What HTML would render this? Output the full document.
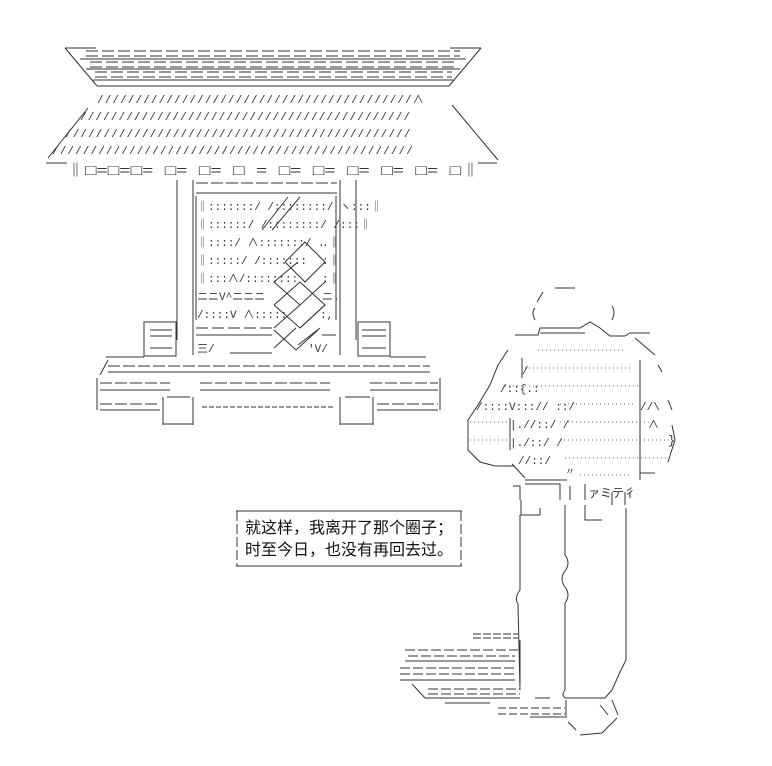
<!DOCTYPE html>
<html><head><meta charset="utf-8"><style>
html,body{margin:0;padding:0;background:#fff;}
svg{display:block}
.t{font-family:"Liberation Mono","Noto Sans CJK SC",monospace;fill:#333;}
.c{font-family:"Liberation Sans","Noto Sans CJK SC",sans-serif;fill:#111;}
</style></head><body>
<svg width="772" height="766" viewBox="0 0 772 766" xmlns="http://www.w3.org/2000/svg">
<g stroke="#333" stroke-width="1" fill="none">
<!-- roof top -->
<line x1="65" y1="48" x2="96" y2="48"/><line x1="450" y1="48" x2="481" y2="48"/>
<line x1="65" y1="48" x2="97" y2="86"/><line x1="481" y1="48" x2="449" y2="86"/>
<g stroke-dasharray="12,4">
<line x1="86" y1="51" x2="460" y2="51"/><line x1="86" y1="56" x2="460" y2="56"/>
<line x1="90" y1="62" x2="456" y2="62"/><line x1="90" y1="67" x2="456" y2="67"/>
<line x1="95" y1="72" x2="452" y2="72"/><line x1="95" y1="77" x2="452" y2="77"/>
</g>
<line x1="80" y1="59" x2="466" y2="59"/><line x1="86" y1="69" x2="460" y2="69"/>
<line x1="93" y1="80" x2="453" y2="80"/><line x1="97" y1="86" x2="449" y2="86"/>
<!-- roof eave diagonals -->
<line x1="88" y1="108" x2="48" y2="158"/>
<line x1="452" y1="105" x2="498" y2="160"/>
<line x1="46" y1="163" x2="67" y2="163"/><line x1="478" y1="163" x2="497" y2="163"/>
<!-- pillars -->
<line x1="177" y1="180" x2="177" y2="340"/><line x1="356" y1="180" x2="356" y2="340"/>
<line x1="193" y1="180" x2="193" y2="355"/><line x1="340" y1="180" x2="340" y2="355"/>
<line x1="196" y1="183" x2="337" y2="183" stroke-dasharray="12,3"/>
<line x1="196" y1="193" x2="337" y2="193"/>
<line x1="196" y1="196" x2="196" y2="320"/><line x1="336" y1="196" x2="336" y2="320"/>
<!-- lattice -->
<polyline points="300,197 272,230"/>
<polyline points="288,197 262,230"/>
<polyline points="285,262 305,242 325,262 305,282 285,262"/>
<polyline points="274,282 298,262"/>
<polyline points="274,282 300,305 325,282"/>
<polyline points="274,305 300,282"/>
<polyline points="274,305 300,328 325,305 300,282"/>
<polyline points="274,328 300,305"/>
<polyline points="274,348 296,328"/>
<polyline points="300,328 325,305"/>
<polyline points="298,345 320,328"/>
<polyline points="274,330 296,350 318,330"/>
<!-- panel lower bars -->
<line x1="196" y1="328" x2="272" y2="328" stroke-dasharray="12,4"/>
<line x1="196" y1="335" x2="272" y2="335"/>
<line x1="322" y1="335" x2="336" y2="335"/>
<line x1="230" y1="353" x2="272" y2="353"/>
<!-- side boxes -->
<rect x="144" y="322" width="32" height="34"/>
<rect x="358" y="322" width="32" height="34"/>
<line x1="150" y1="330" x2="172" y2="330"/><line x1="150" y1="336" x2="172" y2="336"/>
<line x1="150" y1="348" x2="172" y2="348"/>
<line x1="362" y1="330" x2="386" y2="330"/><line x1="362" y1="336" x2="386" y2="336"/>
<line x1="362" y1="348" x2="386" y2="348"/>
<!-- base -->
<line x1="106" y1="357" x2="144" y2="357"/><line x1="390" y1="357" x2="426" y2="357"/>
<line x1="100" y1="375" x2="108" y2="360"/>
<line x1="108" y1="366" x2="430" y2="366" stroke-dasharray="12,3"/>
<line x1="108" y1="372" x2="430" y2="372"/>
<line x1="97" y1="378" x2="97" y2="410"/><line x1="440" y1="378" x2="440" y2="410"/>
<line x1="100" y1="383" x2="170" y2="383" stroke-dasharray="12,3"/>
<line x1="100" y1="390" x2="170" y2="390"/>
<line x1="200" y1="383" x2="330" y2="383" stroke-dasharray="12,3"/>
<line x1="200" y1="390" x2="330" y2="390"/>
<line x1="370" y1="383" x2="438" y2="383" stroke-dasharray="12,3"/>
<line x1="370" y1="390" x2="438" y2="390"/>
<line x1="100" y1="404" x2="160" y2="404" stroke-dasharray="12,3"/>
<line x1="100" y1="410" x2="160" y2="410"/>
<line x1="377" y1="404" x2="438" y2="404" stroke-dasharray="12,3"/>
<line x1="377" y1="410" x2="438" y2="410"/>
<line x1="202" y1="407" x2="335" y2="407" stroke-dasharray="5,2"/>
<line x1="163" y1="397" x2="163" y2="425"/><line x1="193" y1="397" x2="193" y2="425"/>
<line x1="340" y1="397" x2="340" y2="425"/><line x1="373" y1="397" x2="373" y2="425"/>
<line x1="163" y1="424" x2="193" y2="424"/><line x1="340" y1="424" x2="373" y2="424"/>
<line x1="345" y1="397" x2="370" y2="397"/><line x1="167" y1="397" x2="190" y2="397"/>
<!-- text box -->
<line x1="236" y1="511" x2="462" y2="511"/><line x1="236" y1="566" x2="462" y2="566"/>
<line x1="237" y1="511" x2="237" y2="566" stroke-dasharray="10,3"/>
<line x1="461" y1="511" x2="461" y2="566" stroke-dasharray="10,3"/>
<!-- person head -->
<line x1="555" y1="288" x2="575" y2="288"/>
<line x1="543" y1="292" x2="537" y2="302"/>
<path d="M535,308 q-4,4 0,12 M612,306 q4,6 0,14"/>
<!-- collar -->
<path d="M515,335 L538,335 L540,328 L580,328 L590,322 L600,328 L610,336 L625,336 L630,333 L650,333"/>
<line x1="540" y1="333" x2="585" y2="333"/>
<!-- body outline -->
<path d="M508,350 L498,365 L490,385 L478,405 L468,420 L468,450 L480,462 L495,466 L515,466"/>
<path d="M635,338 L655,355 M658,365 L662,372 M668,400 L672,410 M672,425 L675,440 L668,462"/>
<line x1="512" y1="464" x2="525" y2="478"/><line x1="525" y1="480" x2="567" y2="480"/>
<line x1="522" y1="358" x2="522" y2="378"/>
<line x1="510" y1="418" x2="510" y2="450"/>
<line x1="640" y1="360" x2="640" y2="480"/>
<line x1="640" y1="473" x2="655" y2="473"/>
<!-- dotted fills -->
<g stroke-dasharray="1,3" stroke="#666">
<line x1="538" y1="350" x2="625" y2="350"/>
<line x1="525" y1="368" x2="630" y2="368"/>
<line x1="505" y1="386" x2="638" y2="386"/>
<line x1="560" y1="404" x2="636" y2="404"/>
<line x1="470" y1="422" x2="508" y2="422"/><line x1="560" y1="422" x2="655" y2="422"/>
<line x1="470" y1="440" x2="508" y2="440"/><line x1="560" y1="440" x2="672" y2="440"/>
<line x1="565" y1="458" x2="666" y2="458"/>
<line x1="580" y1="475" x2="632" y2="475"/>
</g>
<!-- legs top -->
<path d="M513,486 L520,486 L520,500 M525,484 L560,484 L560,500 M570,486 L570,500 M585,484 L585,500 M612,492 L612,505 M625,492 L625,505"/>
<path d="M521,500 L521,515 L540,515 L540,508 M585,505 L585,520 L602,520"/>
<line x1="520" y1="515" x2="520" y2="590"/>
<path d="M520,590 q-6,8 -2,14 L520,690"/>
<path d="M565,505 L565,555 q6,8 0,16 q-6,8 0,16 q6,8 0,16 L565,690"/>
<path d="M626,508 L626,660 L620,672 L612,690"/>
<!-- feet -->
<line x1="473" y1="634" x2="518" y2="634" stroke-dasharray="8,2"/><line x1="473" y1="638" x2="518" y2="638" stroke-dasharray="8,2"/>
<line x1="405" y1="650" x2="518" y2="650" stroke-dasharray="10,3"/>
<line x1="408" y1="656" x2="515" y2="656" stroke-dasharray="10,3"/>
<line x1="405" y1="661" x2="515" y2="661"/>
<line x1="400" y1="668" x2="515" y2="668" stroke-dasharray="10,3"/>
<line x1="400" y1="674" x2="515" y2="674" stroke-dasharray="10,3"/>
<line x1="400" y1="680" x2="515" y2="680"/>
<line x1="520" y1="640" x2="520" y2="685"/>
<line x1="412" y1="684" x2="425" y2="698"/>
<line x1="428" y1="689" x2="520" y2="689" stroke-dasharray="10,3"/>
<line x1="428" y1="694" x2="520" y2="694" stroke-dasharray="10,3"/>
<line x1="425" y1="698" x2="520" y2="698"/>
<line x1="445" y1="703" x2="490" y2="703"/>
<line x1="535" y1="698" x2="550" y2="698"/>
<line x1="498" y1="708" x2="565" y2="708" stroke-dasharray="8,3"/>
<line x1="498" y1="714" x2="565" y2="714" stroke-dasharray="8,3"/>
<line x1="530" y1="717" x2="565" y2="717"/>
<path d="M565,690 q-4,5 0,8 L605,698 L612,690 M566,700 L566,718"/>
<path d="M600,705 l8,10 M612,700 l6,15 M617,718 l-15,15 L580,735 M568,722 l8,8"/>
</g>
<!-- ascii text rows -->
<text class="t" x="97" y="103" font-size="11" letter-spacing="1.1">/////////////////////////////////////////&#x2227;</text>
<text class="t" x="80" y="120" font-size="11" letter-spacing="1.1">///////////////////////////////////////////</text>
<text class="t" x="65" y="137" font-size="11" letter-spacing="1.1">/////////////////////////////////////////////</text>
<text class="t" x="52" y="154" font-size="11" letter-spacing="1.1">///////////////////////////////////////////////</text>
<text class="t" x="66" y="175" font-size="14" textLength="414" lengthAdjust="spacingAndGlyphs">‖□=□=□= □= □= □ = □= □= □= □= □= □‖</text>
<g font-size="11" class="t">
<text x="197" y="210">‖:::::::/ /::::::::/ ヽ:::‖</text>
<text x="197" y="228">‖::::::/ /::::::::/  /:::‖</text>
<text x="197" y="246">‖::::/ &#x2227;:::::::/ .</text>
<text x="197" y="264">‖:::::/ /:::::::</text>
<text x="197" y="282">‖:::&#x2227;/::::::::</text>
<text x="197" y="300">ニニV^ニニニ</text>
<text x="197" y="318">/::::V &#x2227;:::::</text>
<text x="197" y="352">三/</text>
<text x="322" y="246">.‖</text><text x="322" y="264">:‖</text><text x="322" y="282">:‖</text>
<text x="322" y="300">ニ.</text><text x="320" y="318">:,</text><text x="308" y="352">'V/</text>
</g>
<text class="t" x="522" y="374" font-size="11">/</text>
<text class="t" x="476" y="410" font-size="11">/::::V:::// ::/</text>
<text class="t" x="510" y="428" font-size="11">|.//::/ /</text>
<text class="t" x="510" y="446" font-size="11">|./::/ /</text>
<text class="t" x="518" y="464" font-size="11">//::/</text>
<text class="t" x="565" y="475" font-size="10">〃</text>
<text class="t" x="588" y="497" font-size="12">ァミテ彳</text>
<text class="t" x="500" y="392" font-size="11">/::{.:</text>
<text class="t" x="640" y="410" font-size="11">//\</text>
<text class="t" x="648" y="428" font-size="11">&#x2227;</text>
<text class="t" x="668" y="444" font-size="12">}</text>
<!-- caption -->
<text class="c" x="245" y="533" font-size="16">就这样，我离开了那个圈子；</text>
<text class="c" x="245" y="555" font-size="16">时至今日，也没有再回去过。</text>
</svg>
</body></html>
